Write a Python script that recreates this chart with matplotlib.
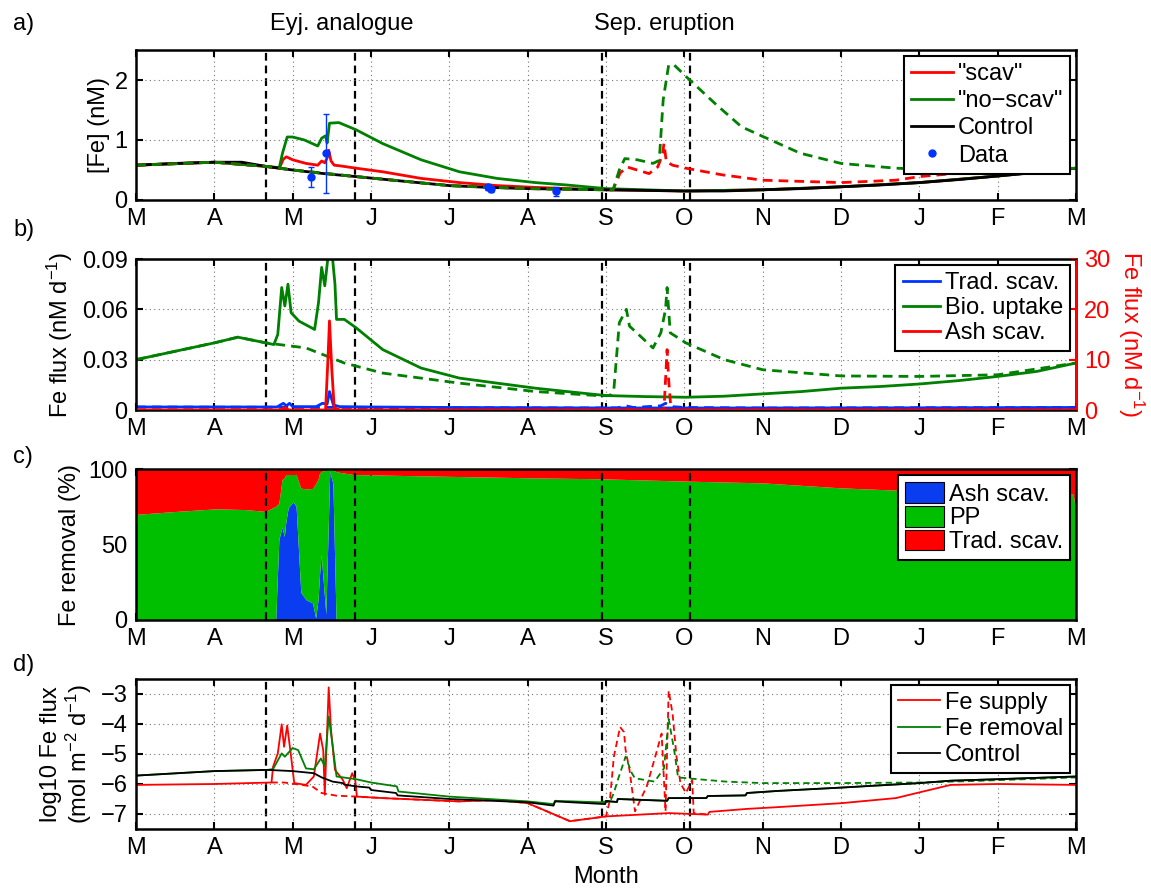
import matplotlib
matplotlib.use('Agg')
import matplotlib.pyplot as plt
from matplotlib.lines import Line2D
from matplotlib.transforms import blended_transform_factory
import numpy as np

plt.rcParams['font.family'] = ['Liberation Sans', 'DejaVu Sans']
plt.rcParams['mathtext.default'] = 'regular'
plt.rcParams['font.size'] = 17

# months since 1 March (0..12)
months = ['M', 'A', 'M', 'J', 'J', 'A', 'S', 'O', 'N', 'D', 'J', 'F', 'M']
eruption_lines = [1.66, 2.80, 5.945, 7.07]

# ---- a) dissolved Fe ----
ctrl_x = [0, 0.5, 1.0, 1.35, 1.66, 2.0, 2.4, 2.81, 3.2, 3.6, 4.0, 4.5, 5.0, 5.5, 6.0, 6.5, 7.0,
          7.5, 8.0, 8.5, 9.0, 9.5, 10.0, 10.5, 11.0, 11.5, 12.0]
ctrl_fe = [0.58, 0.61, 0.63, 0.63, 0.56, 0.50, 0.44, 0.39, 0.34, 0.29, 0.24, 0.21, 0.19, 0.18,
           0.17, 0.16, 0.15, 0.15, 0.17, 0.19, 0.22, 0.25, 0.29, 0.34, 0.40, 0.46, 0.53]

scav_x = [0, 1.0, 1.66, 1.83, 1.88, 1.92, 2.0, 2.17, 2.32, 2.37, 2.41, 2.44, 2.46, 2.49, 2.53,
          2.6, 2.81, 3.15, 3.64, 4.13, 4.61, 5.1, 5.5, 6.0, 7.0, 8.0, 9.0, 10.0, 11.0, 12.0]
scav_fe = [0.58, 0.63, 0.56, 0.53, 0.68, 0.72, 0.67, 0.61, 0.58, 0.65, 0.62, 0.70, 0.83, 0.65,
           0.58, 0.57, 0.53, 0.47, 0.36, 0.29, 0.24, 0.21, 0.19, 0.17, 0.15, 0.17, 0.22, 0.29,
           0.40, 0.53]

noscav_x = [0, 1.0, 1.66, 1.83, 1.87, 1.93, 2.0, 2.15, 2.32, 2.37, 2.42, 2.44, 2.47, 2.59,
            2.81, 3.15, 3.64, 4.13, 4.61, 5.1, 5.5, 6.0, 6.5, 7.0, 8.0, 9.0, 10.0, 11.0, 12.0]
noscav_fe = [0.58, 0.63, 0.56, 0.54, 0.78, 1.05, 1.05, 1.0, 0.9, 1.03, 1.07, 0.95, 1.28, 1.29,
             1.17, 0.94, 0.67, 0.47, 0.36, 0.29, 0.25, 0.19, 0.17, 0.15, 0.17, 0.22, 0.29,
             0.40, 0.53]

sep_noscav_x = [0, 1.0, 1.66, 2.0, 2.81, 4.0, 5.0, 6.0, 6.09, 6.17, 6.24, 6.4, 6.6, 6.68, 6.73,
                6.8, 6.87, 7.02, 7.39, 7.73, 8.0, 8.48, 9.0, 9.7, 10.3, 11.0, 11.5, 12.0]
sep_noscav_fe = [0.58, 0.63, 0.56, 0.50, 0.39, 0.24, 0.19, 0.17, 0.17, 0.50, 0.69, 0.67, 0.61,
                 0.66, 1.67, 2.25, 2.25, 2.06, 1.61, 1.22, 1.06, 0.78, 0.61, 0.53, 0.50, 0.49,
                 0.50, 0.53]

sep_scav_x = [0, 1.0, 1.66, 2.0, 2.81, 4.0, 5.0, 6.0, 6.09, 6.18, 6.27, 6.55, 6.66, 6.72, 6.74,
              6.77, 6.85, 7.02, 7.48, 8.0, 9.0, 9.7, 10.0, 10.7, 11.5, 12.0]
sep_scav_fe = [0.58, 0.63, 0.56, 0.50, 0.39, 0.24, 0.19, 0.17, 0.17, 0.45, 0.55, 0.44, 0.55,
               0.75, 0.94, 0.64, 0.58, 0.53, 0.42, 0.33, 0.29, 0.33, 0.39, 0.47, 0.51, 0.53]

obs_x = [2.23, 2.43, 4.49, 4.53, 5.36]
obs_fe = [0.39, 0.78, 0.22, 0.18, 0.15]
obs_lo = [0.17, 0.66, 0.05, 0.04, 0.09]
obs_hi = [0.16, 0.66, 0.04, 0.03, 0.07]

# ---- b) Fe fluxes ----
bio_x = [0, 0.5, 1.0, 1.3, 1.66, 1.76, 1.81, 1.86, 1.9, 1.94, 1.98, 2.08, 2.28, 2.33, 2.37,
         2.41, 2.46, 2.5, 2.54, 2.56, 2.66, 2.81, 3.15, 3.64, 4.13, 4.61, 5.1, 5.5, 6.0, 6.5,
         7.02, 7.5, 8.0, 8.5, 9.0, 9.5, 10.0, 10.5, 11.0, 11.5, 12.0]
bio_flux = [0.030, 0.035, 0.040, 0.0434, 0.040, 0.039, 0.045, 0.073, 0.062, 0.075, 0.058,
            0.053, 0.048, 0.064, 0.085, 0.074, 0.095, 0.095, 0.075, 0.054, 0.054, 0.049, 0.036,
            0.025, 0.019, 0.016, 0.013, 0.011, 0.0086, 0.0080, 0.0076, 0.0082, 0.0096, 0.011,
            0.013, 0.014, 0.0155, 0.0175, 0.020, 0.023, 0.028]

bio_sep_x = [0, 0.5, 1.0, 1.3, 1.66, 2.17, 2.66, 3.15, 4.13, 5.1, 5.92, 6.05, 6.1, 6.17, 6.26,
             6.3, 6.6, 6.7, 6.76, 6.78, 6.82, 7.02, 7.51, 8.0, 9.0, 10.0, 11.0, 12.0]
bio_sep_flux = [0.030, 0.035, 0.040, 0.0434, 0.040, 0.037, 0.028, 0.022, 0.016, 0.011, 0.0085,
                0.0086, 0.012, 0.052, 0.060, 0.050, 0.037, 0.046, 0.060, 0.073, 0.046, 0.040,
                0.030, 0.024, 0.0203, 0.020, 0.021, 0.028]

trad_x = [0, 1.66, 1.8, 1.88, 1.92, 1.96, 2.0, 2.3, 2.38, 2.44, 2.47, 2.52, 2.6, 3.0, 4.0, 6.0,
          8.0, 10.0, 12.0]
trad_flux = [0.0018, 0.0018, 0.0018, 0.004, 0.0025, 0.004, 0.002, 0.002, 0.004, 0.0035, 0.011,
             0.003, 0.002, 0.0018, 0.0015, 0.0012, 0.0012, 0.0013, 0.0015]
trad_sep_x = [0, 5.9, 6.15, 6.25, 6.35, 6.7, 6.76, 6.85, 7.0, 8.0, 12.0]
trad_sep_flux = [0.0018, 0.0012, 0.0013, 0.0025, 0.0015, 0.0025, 0.004, 0.002, 0.0015, 0.0012,
                 0.0015]

ash_x = [0, 1.85, 1.9, 1.95, 2.42, 2.45, 2.47, 2.5, 2.53, 2.6, 12.0]
ash_flux = [0, 0, 0.5, 0, 0, 10, 17.7, 8, 0.5, 0, 0]
ash_sep_x = [0, 6.2, 6.25, 6.3, 6.74, 6.76, 6.78, 6.8, 6.83, 12.0]
ash_sep_flux = [0, 0, 0.4, 0, 0, 6, 12, 6, 0, 0]

# ---- c) removal partition (%) ----
rem_x = [0, 0.5, 1.03, 1.4, 1.66, 1.75, 1.79, 1.83, 1.87, 1.9, 1.92, 1.95, 2.01, 2.05, 2.11,
         2.18, 2.26, 2.3, 2.33, 2.35, 2.37, 2.43, 2.48, 2.52, 2.56, 2.6, 2.78, 3.8, 5.08, 5.93,
         7.07, 8.0, 9.0, 9.7, 10.5, 11.3, 11.97, 12.0]
ash_pct = [0, 0, 0, 0, 0, 0, 0, 53, 61, 55, 65, 74, 78, 75, 18, 13, 11, 1, 13, 30, 43, 3.5,
           98, 90, 0, 0, 0, 0, 0, 0, 0, 0, 0, 0, 0, 0, 0, 0]
pp_pct = [69.6, 71.5, 73.3, 72.8, 71.6, 74, 75, 24, 31.7, 39, 31, 22, 18, 21, 69, 73.5, 75.8,
          89, 80, 67, 55, 95.5, 1.3, 9, 98, 97.5, 96, 95, 93.8, 93.2, 91.6, 90.5, 87.2, 85.7,
          84.5, 83.5, 83, 73]
trad_pct = [100 - a - p for a, p in zip(ash_pct, pp_pct)]

# ---- d) log10 Fe flux ----
ctrl_d_x = [0, 1.0, 1.68, 2.0, 2.27, 2.37, 2.51, 2.64, 2.66, 2.81, 2.98, 3.0, 3.32, 3.34, 4.0,
            5.0, 5.33, 5.35, 5.92, 5.99, 6.0, 6.14, 6.15, 6.78, 6.8, 7.28, 7.3, 7.78, 7.8, 8.2,
            9.0, 10.0, 10.4, 11.0, 12.0]
ctrl_d = [-5.72, -5.57, -5.53, -5.57, -5.64, -5.78, -5.92, -5.97, -6.02, -6.08, -6.12, -6.2,
          -6.3, -6.38, -6.5, -6.61, -6.72, -6.58, -6.66, -6.67, -6.56, -6.6, -6.5, -6.56, -6.47,
          -6.47, -6.4, -6.38, -6.3, -6.23, -6.12, -5.97, -5.89, -5.84, -5.75]

removal_x = [0, 1.0, 1.68, 1.75, 1.79, 1.86, 1.9, 2.0, 2.07, 2.17, 2.27, 2.36, 2.41, 2.46,
             2.51, 2.56, 2.81, 3.0, 3.33, 3.35, 4.0, 5.0, 5.33, 5.35, 5.92, 6.0, 6.14, 6.15,
             6.78, 6.8, 7.28, 7.3, 7.78, 7.8, 8.2, 9.0, 10.0, 10.4, 11.0, 12.0]
removal_d = [-5.72, -5.57, -5.53, -5.5, -5.31, -4.98, -5.09, -4.8, -4.87, -5.48, -5.51, -5.15,
             -5.4, -3.75, -4.71, -5.75, -5.84, -5.95, -6.08, -6.25, -6.42, -6.58, -6.67, -6.56,
             -6.61, -6.58, -6.6, -6.5, -6.56, -6.47, -6.47, -6.4, -6.38, -6.3, -6.23, -6.12,
             -5.97, -5.89, -5.84, -5.75]

removal_sep_x = [5.95, 6.05, 6.1, 6.15, 6.25, 6.33, 6.37, 6.62, 6.74, 6.8, 6.87, 6.92, 7.04,
                 7.53, 8.0, 9.0, 10.0, 10.7, 12.0]
removal_sep_d = [-6.61, -6.6, -6.3, -5.87, -5.09, -5.64, -5.81, -5.92, -5.48, -3.83, -4.87,
                 -5.78, -5.81, -5.92, -5.97, -5.97, -5.95, -5.9, -5.78]

supply_x = [0, 1.0, 1.73, 1.75, 1.81, 1.86, 1.89, 1.93, 1.98, 2.02, 2.17, 2.27, 2.35, 2.39,
            2.41, 2.46, 2.49, 2.54, 2.64, 2.69, 2.76, 2.8, 2.82, 3.15, 4.13, 4.61, 5.0, 5.2,
            5.54, 6.0, 6.8, 7.3, 7.32, 7.8, 8.2, 9.0, 9.7, 10.0, 10.4, 11.0, 12.0]
supply_d = [-6.03, -6.0, -5.95, -5.42, -4.98, -4.01, -4.76, -4.05, -5.09, -5.97, -6.03, -5.75,
            -4.32, -4.87, -6.36, -2.78, -4.21, -5.53, -5.86, -6.14, -5.64, -5.9, -6.42, -6.47,
            -6.58, -6.53, -6.64, -6.86, -7.24, -7.08, -6.97, -7.02, -6.93, -6.83, -6.77, -6.64,
            -6.47, -6.28, -6.03, -6.0, -6.03]

supply_sep_x = [1.73, 1.89, 2.25, 2.37, 2.56, 2.82, 3.15, 4.13, 4.61, 5.0, 5.2, 5.54, 6.0,
                6.05, 6.1, 6.18, 6.23, 6.25, 6.3, 6.37, 6.52, 6.64, 6.71, 6.76, 6.8, 6.85, 6.9,
                6.95, 7.02, 7.1, 7.12, 7.3]
supply_sep_d = [-5.95, -5.95, -6.08, -6.3, -6.39, -6.42, -6.47, -6.58, -6.53, -6.64, -6.86,
                -7.24, -7.08, -6.53, -5.09, -4.1, -4.27, -4.87, -5.53, -6.91, -6.08, -4.98,
                -4.32, -6.91, -2.89, -3.66, -5.09, -5.97, -6.3, -5.87, -6.97, -7.02]

RED = '#ff0000'
GREEN = '#008000'
BLUE = '#0033ff'
DASH = (0, (3.5, 2.2))

W, H = 1151, 894
fig = plt.figure(figsize=(W / 100, H / 100), dpi=100)


def box(top, bottom):
    return [136 / W, 1 - bottom / H, 940 / W, (bottom - top) / H]


def style(ax, grid=True):
    ax.set_xlim(0, 12)
    ax.set_xticks(range(13))
    ax.set_xticklabels(months)
    ax.tick_params(direction='in', length=5, width=1.5, top=True, right=True, pad=6)
    for s in ax.spines.values():
        s.set_linewidth(1.8)
    if grid:
        ax.grid(True, linestyle=(0, (1, 3)), color='0.45', linewidth=0.8)
    for xv in eruption_lines:
        ax.axvline(xv, color='k', linestyle=DASH, lw=1.6, zorder=1.5)


def legend(ax, y, **kw):
    lg = ax.legend(loc='upper right', bbox_to_anchor=(0.994, y), fancybox=False,
                   framealpha=1, edgecolor='k', borderaxespad=0, handletextpad=0.2,
                   borderpad=0.3, **kw)
    lg.get_frame().set_linewidth(1.5)
    return lg


# a)
ax1 = fig.add_axes(box(50, 200))
style(ax1)
l_scav, = ax1.plot(scav_x, scav_fe, color=RED, lw=2)
l_noscav, = ax1.plot(noscav_x, noscav_fe, color=GREEN, lw=2)
l_ctrl, = ax1.plot(ctrl_x, ctrl_fe, color='k', lw=2)
ax1.plot(sep_scav_x, sep_scav_fe, color=RED, lw=2, linestyle=DASH)
ax1.plot(sep_noscav_x, sep_noscav_fe, color=GREEN, lw=2, linestyle=DASH)
ax1.errorbar(obs_x, obs_fe, yerr=[obs_lo, obs_hi], fmt='o', color=BLUE, ms=5, lw=1,
             capsize=2)
ax1.set_ylim(0, 2.5)
ax1.set_yticks([0, 1, 2])
ax1.set_ylabel('[Fe] (nM)', labelpad=3)
dot = Line2D([], [], marker='o', ms=5, color=BLUE, linestyle='none')
legend(ax1, 0.96, handles=[l_scav, l_noscav, l_ctrl, dot],
       labels=['"scav"', '"no\u2212scav"', 'Control', 'Data'],
       handlelength=1.8, labelspacing=0.22)

# b)
ax2 = fig.add_axes(box(259, 410))
style(ax2)
ax2.tick_params(right=False)
ax2.plot(bio_sep_x, bio_sep_flux, color=GREEN, lw=2, linestyle=DASH)
l_bio, = ax2.plot(bio_x, bio_flux, color=GREEN, lw=2)
ax2.plot(trad_sep_x, trad_sep_flux, color=BLUE, lw=2, linestyle=DASH)
l_trad, = ax2.plot(trad_x, trad_flux, color=BLUE, lw=2)
ax2.set_ylim(0, 0.09)
ax2.set_yticks([0, 0.03, 0.06, 0.09])
ax2.set_yticklabels(['0', '0.03', '0.06', '0.09'])
ax2.set_ylabel('Fe flux (nM d$^{-1}$)', labelpad=5)
ax2b = ax2.twinx()
l_ash, = ax2b.plot(ash_x, ash_flux, color=RED, lw=2)
ax2b.plot(ash_sep_x, ash_sep_flux, color=RED, lw=2, linestyle=DASH)
ax2b.set_ylim(0, 30)
ax2b.set_yticks([0, 10, 20, 30])
ax2b.tick_params(direction='in', length=5, width=1.5, colors=RED, pad=6)
ax2b.spines['right'].set_color(RED)
ax2b.spines['right'].set_linewidth(1.8)
ax2b.set_ylabel('Fe flux (nM d$^{-1}$)', color=RED, rotation=270, labelpad=26)
legend(ax2b, 0.96, handles=[l_trad, l_bio, l_ash],
       labels=['Trad. scav.', 'Bio. uptake', 'Ash scav.'],
       handlelength=1.6, labelspacing=0.12)

# c)
ax3 = fig.add_axes(box(469, 620))
ax3.stackplot(rem_x, ash_pct, pp_pct, trad_pct, colors=['#0a3cf0', '#00bf00', '#ff0000'],
              labels=['Ash scav.', 'PP', 'Trad. scav.'], zorder=1)
style(ax3, grid=False)
ax3.set_axisbelow(True)
ax3.set_ylim(0, 100)
ax3.set_yticks([0, 50, 100])
ax3.set_ylabel('Fe removal (%)', labelpad=5)
lg3 = legend(ax3, 0.958, handlelength=1.65, handleheight=0.95, labelspacing=0.02)
for p in lg3.get_patches():
    p.set_edgecolor('k')
    p.set_linewidth(0.8)

# d)
ax4 = fig.add_axes(box(679, 829))
style(ax4)
ax4.plot(supply_x, supply_d, color=RED, lw=1.3, label='Fe supply')
ax4.plot(supply_sep_x, supply_sep_d, color=RED, lw=1.3, linestyle=DASH)
ax4.plot(removal_x, removal_d, color=GREEN, lw=1.3, label='Fe removal')
ax4.plot(removal_sep_x, removal_sep_d, color=GREEN, lw=1.3, linestyle=DASH)
ax4.plot(ctrl_d_x, ctrl_d, color='k', lw=1.3, label='Control')
ax4.set_ylim(-7.5, -2.5)
ax4.set_yticks([-7, -6, -5, -4, -3])
ax4.set_ylabel('log10 Fe flux\n(mol m$^{-2}$ d$^{-1}$)', labelpad=5, linespacing=1.05)
ax4.set_xlabel('Month', labelpad=5)
legend(ax4, 0.963, handlelength=1.8, labelspacing=0.18)

# panel letters and headings
for lab, yc in zip(['a)', 'b)', 'c)', 'd)'], [24, 230, 457, 665]):
    fig.text(13 / W, 1 - yc / H, lab, va='center', ha='left')
head = blended_transform_factory(ax1.transData, fig.transFigure)
ax1.text(2.63, 1 - 24 / H, 'Eyj. analogue', transform=head, ha='center', va='center')
ax1.text(6.75, 1 - 24 / H, 'Sep. eruption', transform=head, ha='center', va='center')

fig.savefig('out.png', dpi=100)
